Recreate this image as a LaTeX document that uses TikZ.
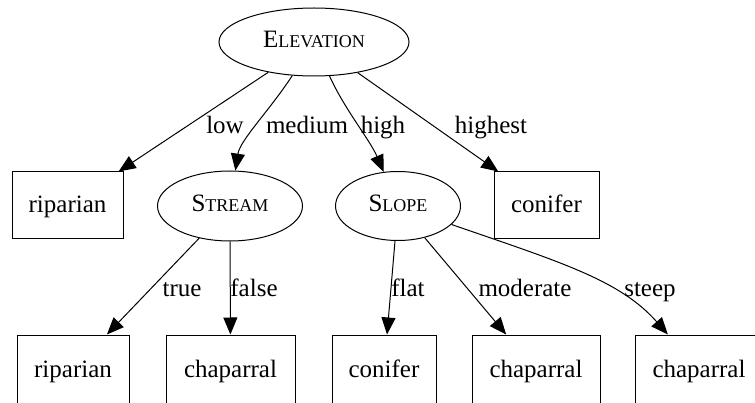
\documentclass[tikz,border=0pt]{standalone}
\usepackage{fontspec}
\setmainfont{Liberation Serif}
\usetikzlibrary{arrows.meta,positioning,shapes.geometric}
\newcommand{\fakesc}[2]{#1{\fontsize{18}{20}\selectfont #2}}

\begin{document}
\begin{tikzpicture}[x=1pt, y=-1pt,
  every node/.style={font=\fontsize{25}{29}\selectfont},
  attr/.style={draw, ellipse, inner sep=0pt, line width=1pt,
    text height=13pt, text depth=1pt},
  leaf/.style={draw, rectangle, inner sep=0pt, line width=1pt,
    minimum height=67pt, text height=18pt, text depth=3pt},
  lowleaf/.style={leaf, minimum height=70pt},
  lbl/.style={anchor=base, inner sep=0pt},
  edge/.style={-{Triangle[length=17pt, width=14pt]}, line width=1pt}]
\useasboundingbox (0,0) rectangle (755,403);
% decision nodes
\node[attr, minimum width=190pt, minimum height=68pt] (elev) at (314,42)
  {\fakesc{E}{LEVATION}};
\node[attr, minimum width=145pt, minimum height=70pt] (stream) at (230,206)
  {\fakesc{S}{TREAM}};
\node[attr, minimum width=125pt, minimum height=69pt] (slope) at (398,206)
  {\fakesc{S}{LOPE}};
% leaves
\node[leaf, minimum width=111pt] (rip1) at (67.5,205.5) {riparian};
\node[leaf, minimum width=105pt] (con1) at (546.5,205.5) {conifer};
\node[lowleaf, minimum width=112pt] (rip2) at (73,370) {riparian};
\node[lowleaf, minimum width=129pt] (chap1) at (230.5,370) {chaparral};
\node[lowleaf, minimum width=104pt] (con2) at (384,370) {conifer};
\node[lowleaf, minimum width=128pt] (chap2) at (536,370) {chaparral};
\node[lowleaf, minimum width=128pt] (chap3) at (699,370) {chaparral};
% edges
\draw[edge] (elev) -- (rip1);
\draw[edge] (elev) .. controls (270,110) and (240,140) .. (stream);
\draw[edge] (elev) .. controls (345,110) and (370,140) .. (slope);
\draw[edge] (elev) -- (con1);
\draw[edge] (stream) -- (rip2);
\draw[edge] (stream) -- (chap1);
\draw[edge] (slope) -- (con2);
\draw[edge] (slope) -- (chap2);
\draw[edge] (slope) .. controls (560,262) and (620,280) .. (chap3);
% edge labels
\node[lbl] (lowlbl) at (225,134) {low};
\node[lbl] (medlbl) at (307,134) {medium};
\node[lbl] (highlbl) at (383,134) {high};
\node[lbl] (hstlbl) at (491,134) {highest};
\node[lbl] (truelbl) at (182,297) {true};
\node[lbl] (falselbl) at (254,297) {false};
\node[lbl] (flatlbl) at (408,297) {flat};
\node[lbl] (modlbl) at (525,297) {moderate};
\node[lbl] (steeplbl) at (650,297) {steep};
\end{tikzpicture}
\end{document}
